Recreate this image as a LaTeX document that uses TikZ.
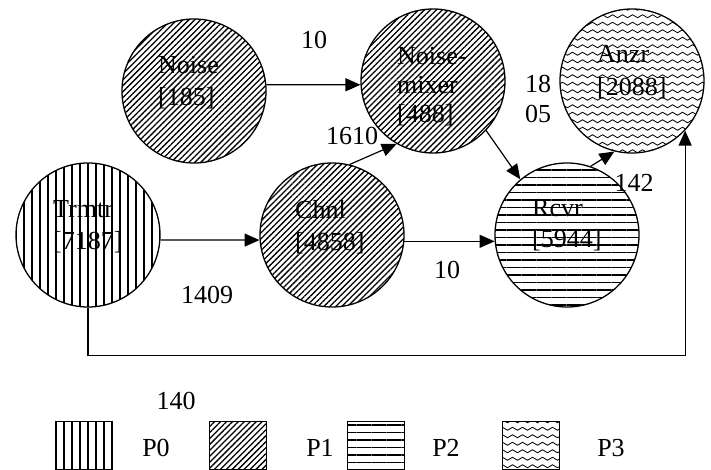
\documentclass[tikz,border=0pt]{standalone}
\usepackage{fontspec}
\setmainfont{Liberation Serif}
\usetikzlibrary{patterns,patterns.meta,arrows.meta}
\pgfdeclarepatternformonly{mywaves}{\pgfpoint{-1pt}{-1pt}}{\pgfpoint{11pt}{8.5pt}}{\pgfpoint{10pt}{7.5pt}}{%
  \pgfsetlinewidth{0.8pt}%
  \pgfpathmoveto{\pgfpoint{0pt}{3.75pt}}%
  \pgfpathcurveto{\pgfpoint{1.67pt}{5.75pt}}{\pgfpoint{3.33pt}{5.75pt}}{\pgfpoint{5pt}{3.75pt}}%
  \pgfpathcurveto{\pgfpoint{6.67pt}{1.75pt}}{\pgfpoint{8.33pt}{1.75pt}}{\pgfpoint{10pt}{3.75pt}}%
  \pgfusepath{stroke}}
\tikzset{
  proc/.style={circle, draw, line width=1.3pt, minimum size=144pt, inner sep=0pt},
  pzero/.style={pattern={Lines[angle=90,distance=8pt,line width=1.5pt]}},
  pone/.style={pattern={Lines[angle=45,distance=4.2pt,line width=1.3pt]}},
  ptwo/.style={pattern={Lines[angle=0,distance=7.5pt,line width=1.3pt]}},
  pthree/.style={pattern=mywaves},
  lbl/.style={font=\fontsize{26}{32}\selectfont, inner sep=0pt},
  txt/.style={lbl, align=left, anchor=north west},
  edge/.style={line width=1.2pt, -{Triangle[length=15pt,width=13pt]}},
  legbox/.style={draw, line width=1.3pt, minimum width=57pt, minimum height=48pt, inner sep=0pt, anchor=north west}
}
\begin{document}
\begin{tikzpicture}[x=1pt,y=-1pt]
\useasboundingbox (0,0) rectangle (711,470);
% process circles
\node[proc,pone] (noise) at (194,91) {};
\node[proc,pone] (mixer) at (433,81) {};
\node[proc,pthree] (anzr) at (632,81) {};
\node[proc,pzero] (trmtr) at (88,235) {};
\node[proc,pone] (chnl) at (332,235) {};
\node[proc,ptwo] (rcvr) at (567,235) {};
% texts
\node[txt] (tnoise) at (158,56.5) {Noise\\{[}185{]}};
\node[txt,font=\fontsize{26}{29}\selectfont] (tmixer) at (397,47.5) {Noise-\\mixer\\{[}488{]}};
\node[txt,font=\fontsize{26}{33}\selectfont] (tanzr) at (597,45.5) {Anzr\\{[}2088{]}};
\node[txt,font=\fontsize{26}{31}\selectfont] (trcvr) at (532,199.5) {Rcvr\\{[}5944{]}};
\node[txt] (ttrmtr) at (53,200.5) {Trmtr\\{[}7187{]}};
\node[txt] (tchnl) at (295,200.5) {Chnl\\{[}4858{]}};
% edges
\draw[edge] (noise.5) -- (mixer.183);
\draw[edge] (chnl.76) -- (mixer.-120);
\draw[edge] (mixer.-43) -- (rcvr.130);
\draw[edge] (rcvr.71) -- (anzr.-104);
\draw[edge] (trmtr.-4) -- (chnl.184);
\draw[edge] (chnl.-5) -- (rcvr.185);
\draw[edge] (trmtr.south) -- ++(0,48) -| (anzr.-43);
% edge labels
\node[lbl] (e1) at (314,40) {10};
\node[lbl] (e2) at (352,136) {1610};
\node[lbl,align=center,font=\fontsize{26}{30}\selectfont] (e3) at (538,99) {18\\05};
\node[lbl] (e4) at (634,183) {142};
\node[lbl] (e5) at (207,295) {1409};
\node[lbl] (e6) at (447,270) {10};
\node[lbl] (e7) at (176,401) {140};
% legend
\node[legbox,pzero] (lb0) at (55,421) {};
\node[lbl] (lp0) at (156,448) {P0};
\node[legbox,pone] (lb1) at (209,421) {};
\node[lbl] (lp1) at (320,448) {P1};
\node[legbox,ptwo] (lb2) at (347,421) {};
\node[lbl] (lp2) at (446,448) {P2};
\node[legbox,pthree] (lb3) at (502,421) {};
\node[lbl] (lp3) at (611,448) {P3};
\end{tikzpicture}
\end{document}
